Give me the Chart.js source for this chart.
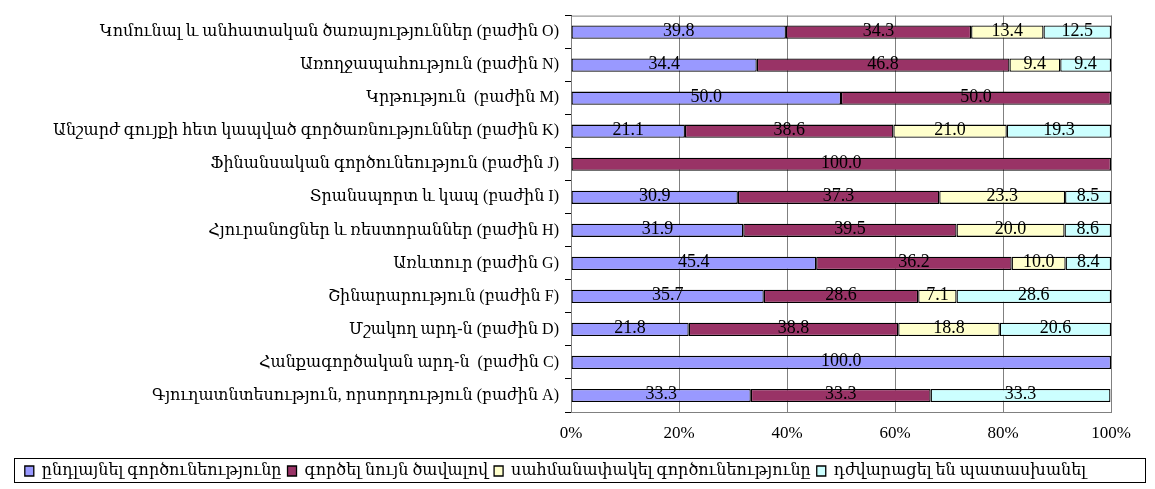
<!DOCTYPE html>
<html>
<head>
<meta charset="utf-8">
<script src="https://cdn.jsdelivr.net/npm/chart.js@4/dist/chart.umd.min.js"></script>
<style>
  html, body { margin: 0; padding: 0; background: #fff; }
  #wrap { width: 1155px; height: 489px; position: relative; }
</style>
</head>
<body>
<div id="wrap"><canvas id="barGraph"></canvas></div>
<script>
// categories, top to bottom
const categories = [
    "Կոմունալ և անհատական ծառայություններ (բաժին O)",
    "Առողջապահություն (բաժին N)",
    "Կրթություն  (բաժին M)",
    "Անշարժ գույքի հետ կապված գործառնություններ (բաժին K)",
    "Ֆինանսական գործունեություն (բաժին J)",
    "Տրանսպորտ և կապ (բաժին I)",
    "Հյուրանոցներ և ռեստորաններ (բաժին H)",
    "Առևտուր (բաժին G)",
    "Շինարարություն (բաժին F)",
    "Մշակող արդ-ն (բաժին D)",
    "Հանքագործական արդ-ն  (բաժին C)",
    "Գյուղատնտեսություն, որսորդություն (բաժին A)"
];

const seriesNames = [
    "ընդլայնել գործունեությունը",
    "գործել նույն ծավալով",
    "սահմանափակել գործունեությունը",
    "դժվարացել են պատասխանել"
];

const expand   = [39.8, 34.4, 50.0, 21.1, 0,     30.9, 31.9, 45.4, 35.7, 21.8, 100.0, 33.3];
const same     = [34.3, 46.8, 50.0, 38.6, 100.0, 37.3, 39.5, 36.2, 28.6, 38.8, 0,     33.3];
const limit    = [13.4, 9.4,  0,    21.0, 0,     23.3, 20.0, 10.0, 7.1,  18.8, 0,     0];
const noAnswer = [12.5, 9.4,  0,    19.3, 0,     8.5,  8.6,  8.4,  28.6, 20.6, 0,     33.3];

const xTicks = [0, 20, 40, 60, 80, 100];

const colors = ["#9999FF", "#993366", "#FFFFCC", "#CCFFFF"];
const serif = "'Liberation Serif', 'DejaVu Serif', serif";

// value labels centred in each segment
const valueLabels = {
    id: "valueLabels",
    afterDatasetsDraw(chart) {
        const ctx = chart.ctx;
        ctx.save();
        ctx.font = "18px " + serif;
        ctx.fillStyle = "#000";
        ctx.textAlign = "center";
        ctx.textBaseline = "middle";
        chart.data.datasets.forEach((ds, i) => {
            chart.getDatasetMeta(i).data.forEach((bar, j) => {
                const v = ds.data[j];
                if (!v) return;
                const cx = (bar.x + bar.base) / 2;
                ctx.fillText(v.toFixed(1), cx, bar.y - 1);
            });
        });
        ctx.restore();
    }
};

// plot frame + legend box
const frames = {
    id: "frames",
    beforeDatasetsDraw(chart) {
        const a = chart.chartArea, ctx = chart.ctx;
        ctx.save();
        ctx.strokeStyle = "#808080";
        ctx.lineWidth = 1;
        ctx.strokeRect(a.left + 0.5, a.top + 0.5, a.right - a.left, a.bottom - a.top);
        ctx.restore();
    },
    afterDraw(chart) {
        const ctx = chart.ctx;
        ctx.save();
        ctx.strokeStyle = "#000";
        ctx.lineWidth = 1;
        ctx.strokeRect(14.5, 458.5, 1131, 24);
        ctx.restore();
    }
};

new Chart(document.getElementById("barGraph"), {
    type: "bar",
    data: {
        labels: categories,
        datasets: [expand, same, limit, noAnswer].map((d, i) => ({
            label: seriesNames[i],
            data: d,
            backgroundColor: colors[i],
            borderColor: "#000",
            borderWidth: 1.3,
            borderSkipped: false,
            barPercentage: 0.4,
            categoryPercentage: 1
        }))
    },
    options: {
        indexAxis: "y", // horizontal bars
        responsive: true,
        maintainAspectRatio: false,
        animation: false,
        layout: { padding: { top: 13, right: 44, bottom: 0, left: 0 } },
        plugins: {
            tooltip: { enabled: false },
            legend: {
                position: "bottom",
                labels: {
                    font: { family: serif, size: 16 },
                    color: "#000",
                    boxWidth: 9,
                    boxHeight: 10,
                    padding: 6
                }
            }
        },
        scales: {
            x: {
                stacked: true,
                min: 0,
                max: 100,
                afterBuildTicks: s => { s.ticks = xTicks.map(v => ({ value: v })); },
                afterFit: s => { s.height = 45; },
                ticks: {
                    callback: v => v + "%",
                    font: { family: serif, size: 17 },
                    color: "#000",
                    padding: 11
                },
                grid: { color: "#808080", drawTicks: false },
                border: { color: "#000" }
            },
            y: {
                stacked: true,
                afterFit: s => { s.width = 571; },
                ticks: {
                    font: { family: serif, size: 16 },
                    color: "#000",
                    padding: 6
                },
                grid: { offset: true, drawOnChartArea: false, color: "#000", tickLength: 6 },
                border: { color: "#000" }
            }
        }
    },
    plugins: [valueLabels, frames]
});
</script>
</body>
</html>
